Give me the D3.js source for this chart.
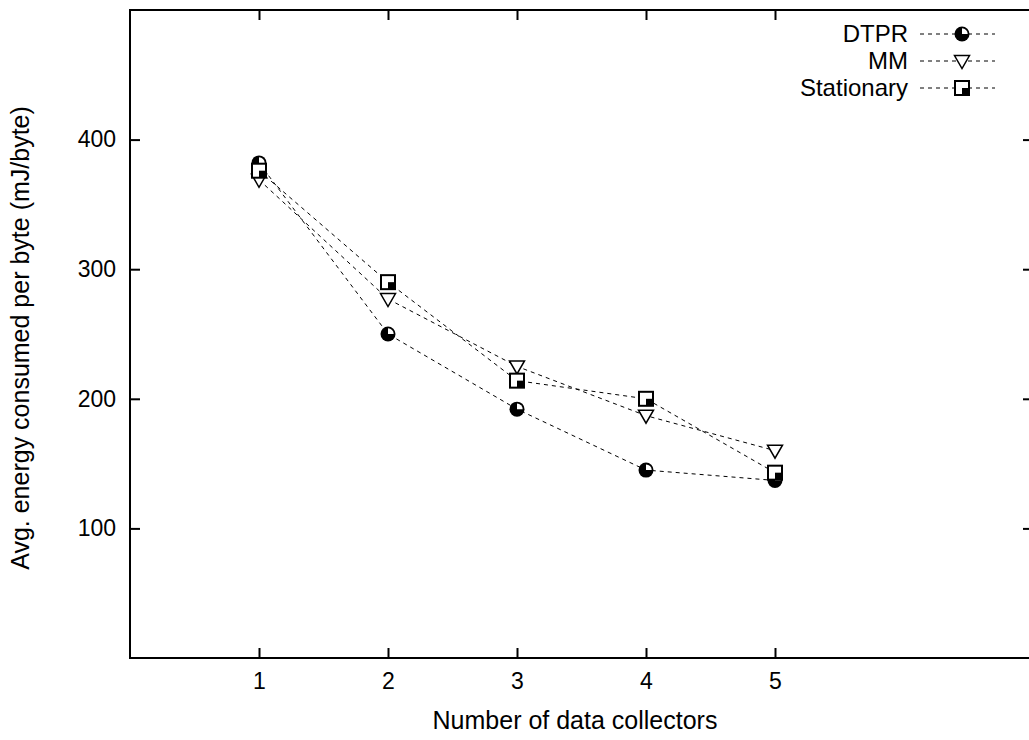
<!DOCTYPE html>
<html><head><meta charset="utf-8">
<script src="https://cdn.jsdelivr.net/npm/d3@7"></script>
<style>body{margin:0;background:#fff}svg{display:block}text{font-family:"Liberation Sans",Arial,sans-serif}</style>
</head><body>
<svg id="c" width="1029" height="740"></svg>
<script>
const categories = [1, 2, 3, 4, 5];
const seriesNames = ["DTPR", "MM", "Stationary"];
const dtpr = [382, 250, 192, 145, 137];
const mm = [369, 277, 225, 187, 160];
const stationary = [376, 290, 214, 200, 143];
const yTicks = [100, 200, 300, 400];
const xLabel = "Number of data collectors";
const yLabel = "Avg. energy consumed per byte (mJ/byte)";

const series = [
  {name: seriesNames[0], values: dtpr, marker: "circle"},
  {name: seriesNames[1], values: mm, marker: "tri"},
  {name: seriesNames[2], values: stationary, marker: "square"}
];

const svg = d3.select("#c");
const L = 130, R = 1033, T = 10, B = 658;
const x = d3.scaleLinear().domain([0, 7]).range([L, R]);
const y = d3.scaleLinear().domain([0, 500]).range([B, T]);
const FS = 25, TFS = 23, LFS = 24;

svg.append("rect").attr("x", L).attr("y", T).attr("width", R - L).attr("height", B - T)
  .attr("fill", "none").attr("stroke", "#000").attr("stroke-width", 2);

const ax = (g, a) => { g.call(a); g.select(".domain").remove();
  g.selectAll(".tick line").attr("stroke-width", 2);
  g.selectAll("text").attr("font-size", TFS).attr("font-family", '"Liberation Sans",Arial,sans-serif').attr("fill", "#000"); };
svg.append("g").attr("transform", `translate(${L},0)`)
  .call(g => ax(g, d3.axisLeft(y).tickValues(yTicks).tickSize(-10).tickPadding(14).tickFormat(d3.format("d"))));
svg.append("g").attr("transform", `translate(${R},0)`)
  .call(g => ax(g, d3.axisRight(y).tickValues(yTicks).tickSize(-10).tickFormat(() => "")));
svg.append("g").attr("transform", `translate(0,${B})`)
  .call(g => ax(g, d3.axisBottom(x).tickValues(categories).tickSize(-10).tickPadding(15).tickFormat(d3.format("d"))));
svg.append("g").attr("transform", `translate(0,${T})`)
  .call(g => ax(g, d3.axisTop(x).tickValues(categories).tickSize(-10).tickFormat(() => "")));

svg.append("text").attr("x", 575).attr("y", 729).attr("text-anchor", "middle")
  .attr("font-size", FS).text(xLabel);
svg.append("text").attr("transform", "translate(29,338) rotate(-90)").attr("text-anchor", "middle")
  .attr("font-size", FS).text(yLabel);

function drawMarker(g, type, cx, cy) {
  const m = g.append("g").attr("transform", `translate(${cx},${cy})`);
  if (type === "circle") {
    const r = 7.5;
    m.append("circle").attr("r", r).attr("fill", "#000");
    m.append("path").attr("d", d3.arc()({innerRadius: 0, outerRadius: r - 1.8, startAngle: 0, endAngle: Math.PI / 2})).attr("fill", "#fff");
  } else if (type === "tri") {
    m.append("path").attr("d", "M-7.5,-5.5 L7.5,-5.5 L0,7.5 Z").attr("fill", "#fff").attr("stroke", "#000").attr("stroke-width", 1.5);
  } else {
    m.append("rect").attr("x", -7).attr("y", -7).attr("width", 14).attr("height", 14)
      .attr("fill", "#fff").attr("stroke", "#000").attr("stroke-width", 2);
    m.append("rect").attr("x", 0).attr("y", 0).attr("width", 7).attr("height", 7).attr("fill", "#000");
  }
}

const line = d3.line().x((d, i) => x(categories[i])).y(d => y(d));
series.forEach(s => {
  svg.append("path").attr("d", line(s.values)).attr("fill", "none").attr("stroke", "#000")
    .attr("stroke-width", 1).attr("stroke-dasharray", "4,4");
});
series.forEach(s => {
  const g = svg.append("g");
  s.values.forEach((v, i) => drawMarker(g, s.marker, x(categories[i]), y(v)));
});

const legY = [34, 61, 88];
series.forEach((s, i) => {
  const yy = legY[i];
  svg.append("text").attr("x", 908).attr("y", yy).attr("dy", "0.35em").attr("text-anchor", "end")
    .attr("font-size", LFS).text(s.name);
  svg.append("line").attr("x1", 920).attr("x2", 995).attr("y1", yy).attr("y2", yy)
    .attr("stroke", "#000").attr("stroke-width", 1).attr("stroke-dasharray", "4,4");
  drawMarker(svg.append("g"), s.marker, 962, yy);
});
</script>
</body></html>
